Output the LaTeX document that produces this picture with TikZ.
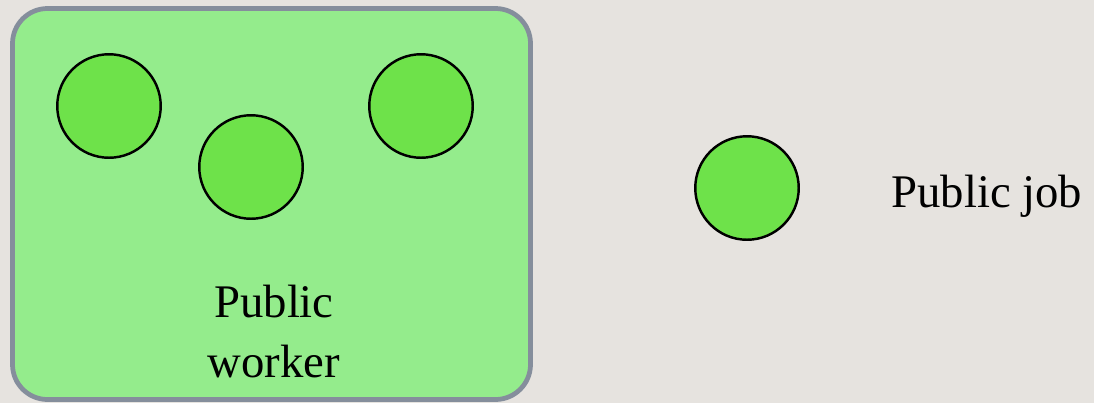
\documentclass[tikz,border=0pt]{standalone}
\usepackage{fontspec}
\setmainfont{Liberation Serif}
\usepackage{tikz}
\usetikzlibrary{positioning}
\definecolor{paper}{HTML}{E6E3DF}
\definecolor{boxgreen}{HTML}{94EC8C}
\definecolor{boxedge}{HTML}{858E9C}
\definecolor{jobgreen}{HTML}{6EE24A}
\tikzset{
  % jobb och arbetare
  job/.style={circle,draw=black,fill=jobgreen,line width=1.4pt,inner sep=0pt,
              minimum size=2.07cm},
  worker/.style={draw=boxedge,fill=boxgreen,line width=2.7pt,rounded corners=0.7cm},
  lbl/.style={font=\fontsize{26.6}{34}\selectfont,inner sep=0pt},
}
\begin{document}
\begin{tikzpicture}[x=0.02cm,y=-0.02cm]
\fill[paper] (0,0) rectangle (1094,403);
\useasboundingbox (0,0) rectangle (1094,403);
  \draw[worker] (12.5,8.5) rectangle (530.5,399.5);
  \node[job] (j1) at (109,106) {};
  \node[job] (j2) at (251,167) {};
  \node[job] (j3) at (421,106) {};
  \node[lbl,align=center,anchor=base] (wlbl) at (274,377) {Public\\worker};
  \node[job] (pj) at (747,188) {};
  \node[lbl,anchor=base west] (pjlbl) at (891,207) {Public job};
\end{tikzpicture}
\end{document}
